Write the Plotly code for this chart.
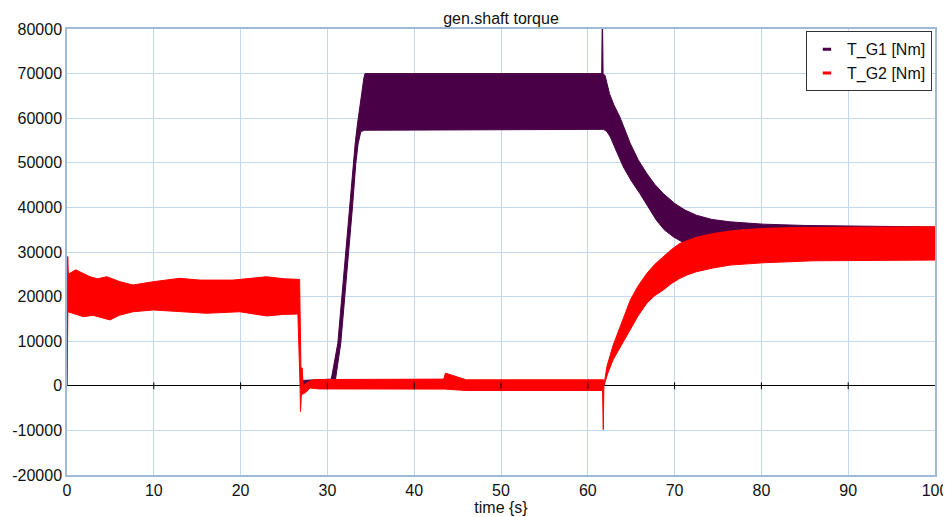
import plotly.graph_objects as go

# ---- data (envelopes of the fast oscillation bands) ----
# T_G1 [Nm]
g1_upper_t = [27.0, 30.45, 31.2, 31.66, 32.12, 32.55, 32.93, 33.2, 33.45, 33.7, 33.95, 34.2, 34.33, 61.6, 61.68, 61.76,
              62.0, 62.5, 63.0, 63.7, 64.3, 64.9, 65.8, 66.8, 67.7, 68.7, 70.0, 71.2, 72.5, 74.3, 76.4, 78.3,
              80.2, 85.0, 89.8, 100.0]
g1_upper_v = [1200, 1500, 9550, 20000, 30000, 40100, 49800, 54300, 58500, 62500, 65500, 69000, 70000, 70000, 85000, 70000,
              69500, 65500, 63000, 60250, 57200, 54300, 50700, 47600, 45200, 43100, 40900, 39400, 38250, 37300, 36760, 36450,
              36240, 35950, 35800, 35600]
g1_lower_t = [27.0, 30.9, 31.54, 32.0, 32.46, 32.89, 33.27, 33.54, 33.85, 34.3, 61.8,
              62.2, 62.6, 63.3, 64.1, 65.0, 66.0, 67.0, 67.9, 68.8, 69.85, 71.2, 76.0, 85.0, 100.0]
g1_lower_v = [-500, 1000, 9550, 20000, 30000, 40100, 49800, 54300, 57000, 57300, 57500,
              57000, 55770, 52600, 49060, 46000, 43100, 40000, 37140, 35000, 33400, 31900, 30500, 30000, 30000]

# T_G2 [Nm]
g2_upper_t = [0.0, 0.08, 0.15, 1.0, 2.0, 2.65, 3.5, 4.6, 6.1, 7.6, 9.95, 13.0, 15.3, 19.1, 23.0, 25.0, 26.8,
              26.95, 27.1, 27.2, 27.6, 28.5, 43.4, 43.6, 46.0, 61.8, 61.9, 62.2, 62.9, 63.7, 64.3, 64.9, 65.8, 66.8,
              67.7, 68.7, 69.6, 70.6, 72.5, 74.5, 76.4, 78.3, 81.0, 84.1, 100.0]
g2_upper_v = [0, 29000, 25000, 26000, 25000, 24450, 24000, 24450, 23340, 22600, 23340, 24100, 23700, 23700,
              24450, 24000, 23850, 4000, 4000, 0, 700, 1400, 1500, 2840, 1340, 1340, 600, 4300, 9000, 13270, 16400, 19240,
              22400, 25200, 27200, 28930, 30500, 31920, 33300, 34160, 34700, 35050, 35350, 35500, 35640]
g2_lower_t = [0.0, 0.1, 1.0, 1.9, 3.0, 4.95, 6.0, 7.6, 9.95, 13.0, 16.1, 19.9, 23.0, 24.9, 26.6, 26.85, 26.9, 27.0,
              27.5, 28.0, 29.0, 43.5, 46.0, 61.7, 61.78, 61.86, 62.3, 62.9, 63.9, 64.9, 65.8, 66.8, 67.7, 68.7, 69.6,
              70.6, 71.5, 72.5, 74.4, 76.4, 78.3, 80.2, 86.0, 100.0]
g2_lower_v = [0, 16600, 16000, 15500, 15800, 14770, 15800, 16600, 17000, 16600, 16260, 16600, 15660, 16000, 16100,
              0, -5750, -2000, -1500, -500, -700, -740, -1050, -1050, -9840, 0, 2800, 5800, 9300, 12530, 15700, 18500,
              20200, 21480, 22900, 24090, 24900, 25570, 26400, 27070, 27350, 27580, 28030, 28190]

x_ticks = [0, 10, 20, 30, 40, 50, 60, 70, 80, 90, 100]
x_tick_labels = ["0", "10", "20", "30", "40", "50", "60", "70", "80", "90", "100"]
y_ticks = [-20000, -10000, 0, 10000, 20000, 30000, 40000, 50000, 60000, 70000, 80000]
y_tick_labels = ["-20000", "-10000", "0", "10000", "20000", "30000", "40000", "50000", "60000", "70000", "80000"]

names = ["T_G1 [Nm]", "T_G2 [Nm]"]
colors = ["#4a0046", "#ff0000"]

FONT = "Liberation Sans, Arial, sans-serif"
TXT = "#111111"

fig = go.Figure()

bands = [(g1_upper_t, g1_upper_v, g1_lower_t, g1_lower_v),
         (g2_upper_t, g2_upper_v, g2_lower_t, g2_lower_v)]

for (ut, uv, lt, lv), name, col in zip(bands, names, colors):
    fig.add_trace(go.Scatter(
        x=list(ut) + list(reversed(lt)),
        y=list(uv) + list(reversed(lv)),
        mode="lines", fill="toself", fillcolor=col,
        line=dict(color=col, width=1),
        name=name, showlegend=False, hoverinfo="skip",
    ))

# small tick marks on the zero line
fig.add_trace(go.Scatter(
    x=x_ticks[1:-1], y=[0] * (len(x_ticks) - 2), mode="markers",
    marker=dict(symbol="line-ns-open", size=5, color="black", line=dict(color="black", width=1)),
    showlegend=False, hoverinfo="skip",
))

# legend entries
for name, col in zip(names, colors):
    fig.add_trace(go.Scatter(
        x=[None], y=[None], mode="markers", name=name,
        marker=dict(symbol="line-ew-open", size=6, color=col, line=dict(color=col, width=3)),
    ))

axis_common = dict(
    showgrid=True, gridcolor="#c2d8f0", gridwidth=1,
    showline=True, mirror=True, linecolor="#9fb9d9", linewidth=1.5,
    ticks="", automargin=False,
    tickfont=dict(family=FONT, size=16, color=TXT),
)

# the page body adds an 8px offset, so the figure is sized to fit the 951x517 window
fig.update_layout(
    width=943, height=509,
    margin=dict(l=59, r=16, t=21, b=42),
    paper_bgcolor="white", plot_bgcolor="white",
    font=dict(family=FONT, size=16, color=TXT),
    title=dict(text="gen.shaft torque", xref="paper", x=0.5, xanchor="center", y=1 - 10 / 509, yanchor="middle",
               pad=dict(t=0, b=0), font=dict(family=FONT, size=16, color=TXT)),
    xaxis=dict(range=[0, 100], tickvals=x_ticks, ticktext=x_tick_labels, zeroline=False,
               title=dict(text="time {s}", standoff=4, font=dict(family=FONT, size=16, color=TXT)),
               **axis_common),
    yaxis=dict(range=[-20000, 80000], tickvals=y_ticks, ticktext=y_tick_labels,
               zeroline=True, zerolinecolor="black", zerolinewidth=1.2,
               **axis_common),
    legend=dict(x=0.9965, y=0.995, xanchor="right", yanchor="top",
                bgcolor="white", bordercolor="#333333", borderwidth=1,
                itemwidth=30, tracegroupgap=0,
                font=dict(family=FONT, size=16, color=TXT)),
    showlegend=True,
)

fig.write_html("out.html")
